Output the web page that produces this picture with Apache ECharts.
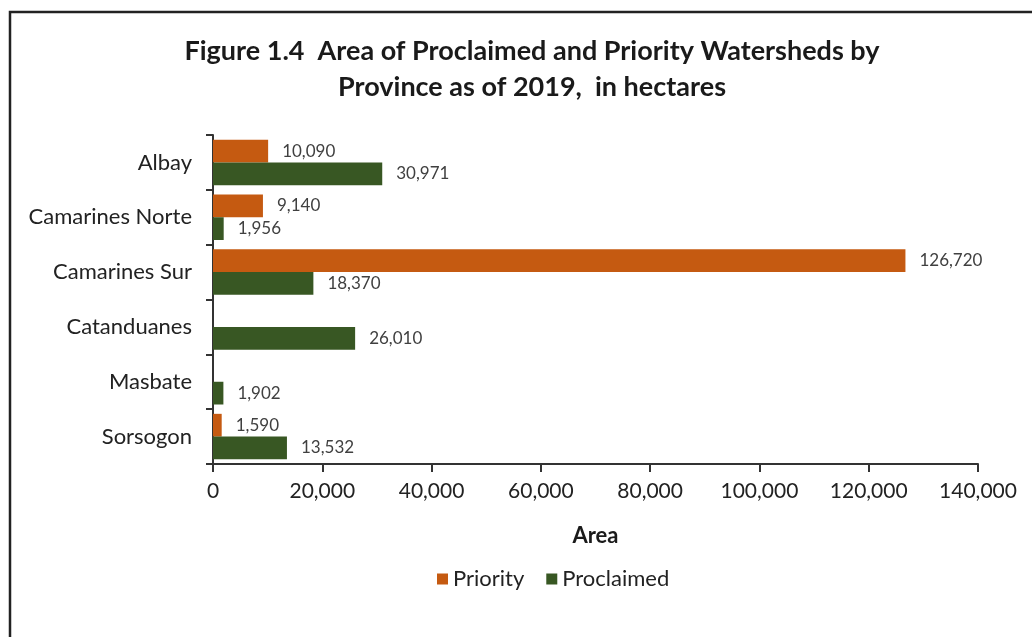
<!DOCTYPE html>
<html>
<head>
<meta charset="utf-8">
<script src="https://cdn.jsdelivr.net/npm/echarts@6/dist/echarts.min.js"></script>
<style>
  html, body { margin: 0; padding: 0; background: #fff; }
  #chart { width: 1032px; height: 637px; }
</style>
</head>
<body>
<div id="chart"></div>
<script>
// Watershed areas by province, in hectares
const provinces = ['Albay', 'Camarines Norte', 'Camarines Sur', 'Catanduanes', 'Masbate', 'Sorsogon'];
const priority = [10090, 9140, 126720, null, null, 1590];
const proclaimed = [30971, 1956, 18370, 26010, 1902, 13532];
const xTicks = { min: 0, max: 140000, step: 20000 };

const FONT = 'Lato, "Noto Sans", sans-serif';
const fmt = v => Number(v).toLocaleString('en-US');

const chart = echarts.init(document.getElementById('chart'), null, { renderer: 'canvas' });

chart.setOption({
  backgroundColor: '#ffffff',
  animation: false,
  textStyle: { fontFamily: FONT },
  graphic: [{
    type: 'rect',
    shape: { x: 10, y: 12, width: 1100, height: 700 },
    style: { fill: 'none', stroke: '#222', lineWidth: 2.5 },
    silent: true
  }],
  title: {
    text: 'Figure 1.4  Area of Proclaimed and Priority Watersheds by\nProvince as of 2019,  in hectares',
    left: 527,
    top: 28,
    textAlign: 'center',
    textStyle: { fontFamily: FONT, fontSize: 27, fontWeight: 'bold', color: '#1a1a1a', lineHeight: 36 }
  },
  legend: {
    left: 432,
    top: 563,
    icon: 'rect',
    itemWidth: 11,
    itemHeight: 11,
    itemGap: 22,
    textStyle: { fontFamily: FONT, fontSize: 22, color: '#222' },
    data: ['Priority', 'Proclaimed']
  },
  grid: { left: 213, right: 54, top: 135, bottom: 173, containLabel: false },
  xAxis: {
    type: 'value',
    min: xTicks.min,
    max: xTicks.max,
    interval: xTicks.step,
    name: 'Area',
    nameLocation: 'middle',
    nameGap: 61,
    nameTextStyle: { fontFamily: FONT, fontSize: 22, fontWeight: 'bold', color: '#1a1a1a' },
    axisLine: { show: true, lineStyle: { color: '#333', width: 2 } },
    axisTick: { show: true, length: 8, lineStyle: { color: '#333', width: 2 } },
    splitLine: { show: false },
    axisLabel: { formatter: fmt, margin: 17, fontSize: 21, color: '#222', fontFamily: FONT }
  },
  yAxis: {
    type: 'category',
    inverse: true,
    data: provinces,
    axisLine: { show: true, lineStyle: { color: '#333', width: 2 } },
    axisTick: { show: true, length: 7, lineStyle: { color: '#333', width: 2 } },
    axisLabel: { margin: 21, fontSize: 22, color: '#222', fontFamily: FONT }
  },
  series: [
    {
      name: 'Priority',
      type: 'bar',
      data: priority,
      barGap: '0%',
      barCategoryGap: '17%',
      itemStyle: { color: '#C55A11' },
      label: { show: true, position: 'right', distance: 14, formatter: p => fmt(p.value), fontSize: 17, color: '#404040', fontFamily: FONT }
    },
    {
      name: 'Proclaimed',
      type: 'bar',
      data: proclaimed,
      barGap: '0%',
      barCategoryGap: '17%',
      itemStyle: { color: '#385723' },
      label: { show: true, position: 'right', distance: 14, formatter: p => fmt(p.value), fontSize: 17, color: '#404040', fontFamily: FONT }
    }
  ]
});
</script>
</body>
</html>
